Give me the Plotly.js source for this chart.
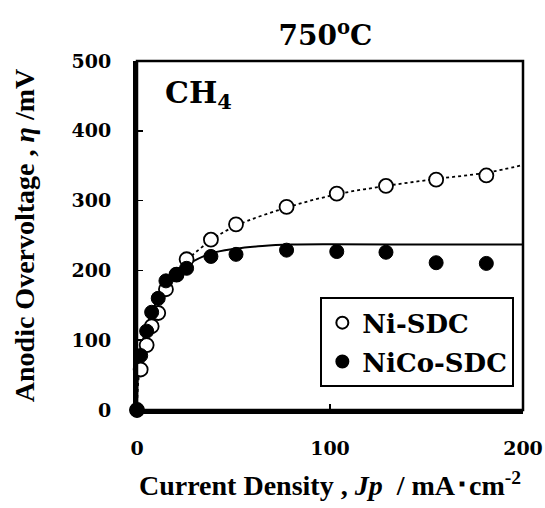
<!DOCTYPE html>
<html>
<head>
<meta charset="utf-8">
<script src="https://cdn.plot.ly/plotly-3.0.1.min.js"></script>
<style>html,body{margin:0;padding:0;background:#fff;}</style>
</head>
<body>
<div id="chart" style="width:545px;height:508px;"></div>
<script>
// Measured points
const niX   = [0, 1.9, 5.0, 7.6, 11.0, 15.0, 20.5, 25.7, 38.3, 51.3, 77.5, 103.5, 129, 155, 181];
const niY   = [0, 58, 93, 120, 139, 173, 194, 216, 244, 266, 291, 310, 321, 330, 336];
const nicoX = [0, 1.9, 5.0, 7.6, 11.0, 15.0, 20.5, 25.7, 38.3, 51.3, 77.5, 103.5, 129, 155, 181];
const nicoY = [0, 78, 113, 140, 160, 185, 194, 203, 220, 223, 229, 227, 226, 211, 210];
// Fitted curves
const niFitX   = [0, 0.5, 2, 5, 10, 15, 20, 25.7, 38.3, 51.3, 77.5, 103.5, 129, 155, 181, 200];
const niFitY   = [0, 35, 70, 105, 145, 172, 195, 214, 243, 264, 290, 309, 321, 331, 340, 351];
const nicoFitX = [0, 0.3, 1, 2, 5, 8, 11, 15, 20, 26, 38, 51, 65, 80, 100, 150, 200];
const nicoFitY = [0, 40, 70, 88, 118, 142, 160, 180, 196, 208, 224, 231, 235, 237, 237.5, 237, 237];
const xTicks = [0, 100, 200];
const yTicks = [0, 100, 200, 300, 400, 500];

const SERIF = "Liberation Serif, Times New Roman, serif";
const WIDE = "DejaVu Serif, serif";
const traces = [
  {x: niFitX, y: niFitY, mode: 'lines', line: {color: '#000', width: 1.8, dash: 'dot', shape: 'spline'}, showlegend: false, hoverinfo: 'skip'},
  {x: nicoFitX, y: nicoFitY, mode: 'lines', line: {color: '#000', width: 2, shape: 'spline'}, showlegend: false, hoverinfo: 'skip'},
  {x: niX, y: niY, mode: 'markers', name: '<b>Ni-SDC</b>', cliponaxis: false, legendgroup: 'a',
   marker: {symbol: 'circle', size: 14, color: '#fff', line: {color: '#000', width: 1.8}}},
  {x: nicoX, y: nicoY, mode: 'markers', name: '<b>NiCo-SDC</b>', cliponaxis: false, legendgroup: 'b',
   marker: {symbol: 'circle', size: 14, color: '#000', line: {color: '#000', width: 1}}}
];

const layout = {
  width: 545, height: 508,
  margin: {l: 137, r: 22, t: 61, b: 98},
  paper_bgcolor: '#fff', plot_bgcolor: '#fff',
  font: {family: SERIF, color: '#000'},
  title: {text: '<b>750<sup>o</sup>C</b>', font: {size: 28, family: WIDE}, x: 0.597, xanchor: 'center', y: 0.93, yanchor: 'middle'},
  xaxis: {
    range: [0, 200], tickvals: xTicks, ticktext: xTicks.map(v => '<b>' + v + '</b>'),
    ticks: 'inside', ticklen: 6, tickwidth: 1.5, tickcolor: '#000',
    showline: true, linewidth: 4, linecolor: '#000', showgrid: false, zeroline: false,
    tickfont: {size: 19, family: WIDE}, ticklabelstandoff: 18,
    title: {text: '<b>Current Density , <i>Jp</i>  / mA･cm<sup>-2</sup></b>', font: {size: 28, family: SERIF}, standoff: 19}
  },
  yaxis: {
    range: [0, 500], tickvals: yTicks, ticktext: yTicks.map(v => '<b>' + v + '</b>'),
    ticks: 'inside', ticklen: 6, tickwidth: 1.5, tickcolor: '#000',
    showline: true, linewidth: 4, linecolor: '#000', showgrid: false, zeroline: false,
    tickfont: {size: 19, family: WIDE}, ticklabelstandoff: 18,
    title: {text: '<b>Anodic Overvoltage , <i>η</i> /mV</b>', font: {size: 28, family: SERIF}, standoff: 30}
  },
  shapes: [{type: 'rect', xref: 'paper', yref: 'paper', x0: 0, x1: 1, y0: 0, y1: 1, line: {color: '#000', width: 2.5}}],
  annotations: [{text: '<b>CH<sub>4</sub></b>', xref: 'paper', yref: 'paper', x: 0.068, y: 0.905, xanchor: 'left', yanchor: 'middle', showarrow: false, font: {size: 30, family: WIDE}}],
  legend: {x: 0.475, y: 0.323, xanchor: 'left', yanchor: 'top', bgcolor: '#fff', bordercolor: '#000', borderwidth: 2,
    font: {size: 26, family: WIDE}, itemsizing: 'constant', tracegroupgap: 2},
  showlegend: true
};
Plotly.newPlot('chart', traces, layout, {displayModeBar: false, staticPlot: true});
</script>
</body>
</html>
